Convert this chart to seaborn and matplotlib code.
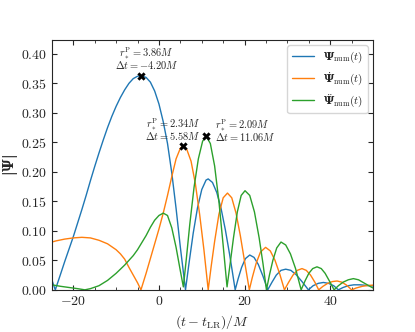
import numpy as np
import matplotlib
matplotlib.use('Agg')
import matplotlib.pyplot as plt
import seaborn as sns
from matplotlib.ticker import AutoMinorLocator, MultipleLocator

# |Psi_num(t)|
t_psi = [-25, -24.6, -24.2, -23, -22, -21, -20, -19, -18, -17, -16, -15, -14, -13, -12,
         -11, -10, -9, -8, -7, -6, -5, -4.2, -3, -2, -1, 0, 1, 2, 3, 4, 5, 6.2,
         7, 8, 9, 10, 11, 11.5, 12.5, 13.5, 14.5, 15.5, 16.5, 17.2, 17.8,
         18.5, 19.3, 20.2, 21.2, 22.2, 23.2, 24.3, 25.4, 26.4, 27.4, 28.5, 29.6, 30.8,
         32, 33.4, 34.9, 36, 37.2, 38.4, 39.6, 40.8, 41.9, 43, 44.2, 45.5, 47, 48.5, 50]
v_psi = [0.017, 0.008, 0.0, 0.026, 0.048, 0.069, 0.090, 0.113, 0.136, 0.160, 0.185, 0.209,
         0.232, 0.254, 0.275, 0.294, 0.311, 0.326, 0.339, 0.350, 0.358, 0.362, 0.363,
         0.360, 0.352, 0.337, 0.315, 0.285, 0.248, 0.198, 0.138, 0.072, 0.0,
         0.044, 0.096, 0.139, 0.170, 0.186, 0.188, 0.182, 0.165, 0.138, 0.102, 0.060, 0.028, 0.0,
         0.019, 0.038, 0.053, 0.059, 0.055, 0.043, 0.023, 0.0, 0.013, 0.025, 0.033, 0.035, 0.033,
         0.026, 0.014, 0.0, 0.007, 0.011, 0.0125, 0.011, 0.007, 0.0, 0.004, 0.007, 0.0085,
         0.0085, 0.0075, 0.0065]

# |dPsi/dt|
t_dpsi = [-25, -24, -22, -20, -18, -16, -14, -12, -10, -9, -8, -7, -6, -5, -4.2,
          -3, -2, -1, 0, 1, 2, 3, 4, 5, 5.58, 6.5, 7.5, 8.5, 9.5, 10.5, 11.5,
          12.2, 13, 14, 15, 16, 17, 18, 19, 20, 21.1, 21.8, 22.7, 23.7, 24.9, 26, 27.1, 28.2,
          29.3, 30.3, 31.3, 32.3, 33.4, 34.4, 35.4, 36.4, 37.3, 38.3, 39.4, 40.5, 41.6, 42.7,
          43.8, 45, 46, 47.5, 49, 50]
v_dpsi = [0.081, 0.083, 0.086, 0.088, 0.089, 0.088, 0.084, 0.078, 0.068, 0.061, 0.052, 0.038,
          0.025, 0.012, 0.0, 0.028, 0.053, 0.078, 0.103, 0.130, 0.160, 0.192, 0.222, 0.240,
          0.244, 0.238, 0.218, 0.180, 0.128, 0.068, 0.0, 0.040, 0.082, 0.128, 0.156, 0.164,
          0.156, 0.130, 0.092, 0.048, 0.0, 0.021, 0.045, 0.064, 0.072, 0.066, 0.050, 0.027,
          0.0, 0.013, 0.025, 0.033, 0.036, 0.033, 0.025, 0.013, 0.0, 0.006, 0.011, 0.014,
          0.015, 0.013, 0.008, 0.0, 0.003, 0.006, 0.0075, 0.008]

# |d2Psi/dt2|
t_ddpsi = [-25, -23, -21, -19, -17.3, -16, -14, -12, -10, -8, -7, -6, -5, -4, -3, -2, -1, 0, 1,
           2, 3, 4, 5, 5.7, 6.4, 7.2, 8.2, 9.2, 10.2, 11.06, 12, 13, 14, 15, 15.9,
           16.6, 17.4, 18.3, 19.2, 20.1, 21.2, 22.3, 23.4, 24.3, 25.1, 25.8, 26.6, 27.5, 28.5,
           29.6, 30.7, 31.9, 33.2, 34.1, 35, 35.9, 36.9, 37.9, 38.8, 39.8, 40.9,
           41.9, 43, 44.2, 45.4, 46.6, 47.8, 49, 50]
v_ddpsi = [0.0085, 0.006, 0.004, 0.002, 0.0, 0.002, 0.007, 0.016, 0.028, 0.042, 0.050, 0.058,
           0.068, 0.080, 0.092, 0.106, 0.118, 0.126, 0.130, 0.126, 0.105, 0.072, 0.032, 0.005,
           0.053, 0.111, 0.174, 0.222, 0.252, 0.260, 0.248, 0.210, 0.150, 0.075, 0.005,
           0.043, 0.088, 0.132, 0.160, 0.168, 0.160, 0.132, 0.088, 0.044, 0.0, 0.025, 0.050,
           0.071, 0.081, 0.076, 0.061, 0.036, 0.0, 0.015, 0.028, 0.036, 0.039, 0.036, 0.028,
           0.015, 0.0, 0.007, 0.013, 0.017, 0.019, 0.017, 0.012, 0.007, 0.003]

labels = [r'$\mathbf{\Psi}_{\rm num}(t)$', r'$\dot{\mathbf{\Psi}}_{\rm num}(t)$',
          r'$\ddot{\mathbf{\Psi}}_{\rm num}(t)$']
r_star = [3.86, 2.34, 2.09]
delta_t = [-4.20, 5.58, 11.06]

sns.set_style('ticks', rc={
    'xtick.direction': 'in', 'ytick.direction': 'in',
    'xtick.top': True, 'ytick.right': True,
})
plt.rcParams['font.family'] = 'serif'
plt.rcParams['font.serif'] = ['cmr10', 'DejaVu Serif']
plt.rcParams['mathtext.fontset'] = 'cm'
plt.rcParams['axes.formatter.use_mathtext'] = True
plt.rcParams['axes.unicode_minus'] = True
# "custom" math set only for the texts with a bold Psi
plt.rcParams['mathtext.rm'] = 'cmr10'
plt.rcParams['mathtext.it'] = 'cmmi10'
plt.rcParams['mathtext.bf'] = 'DejaVu Serif:bold'
plt.rcParams['mathtext.sf'] = 'DejaVu Serif'

colors = sns.color_palette('tab10', 3)
fig, ax = plt.subplots(figsize=(4.15, 3.32), dpi=100)
fig.subplots_adjust(left=0.125, right=0.899, bottom=0.127, top=0.88)

series = [(t_psi, v_psi), (t_dpsi, v_dpsi), (t_ddpsi, v_ddpsi)]
for (t, v), lab, c in zip(series, labels, colors):
    sns.lineplot(x=t, y=v, ax=ax, color=c, label=lab, linewidth=1.0,
                 estimator=None, sort=False)

# peak markers and their annotations
peak_t = [t[int(np.argmax(v))] for t, v in series]
peak_v = [max(v) for t, v in series]
ax.scatter(peak_t, peak_v, marker='X', s=36, color='k', linewidths=0, zorder=5)

offsets = [((4, 3), 'center', 'bottom'), ((-7, 3), 'center', 'bottom'), ((6, 4), 'left', 'center')]
for x, y, r, dt, (off, ha, va) in zip(peak_t, peak_v, r_star, delta_t, offsets):
    txt = r'$r_*^{\rm P} = %.2fM$' % r + '\n' + r'$\Delta t = %.2fM$' % dt
    ax.annotate(txt, xy=(x, y), xytext=off, textcoords='offset points',
                ha=ha, va=va, fontsize=7.5, color='0.15', linespacing=0.8)

ax.set_xlim(-25, 50)
ax.set_ylim(0, 0.4237)
ax.yaxis.set_major_locator(MultipleLocator(0.05))
ax.xaxis.set_major_locator(MultipleLocator(20))
ax.xaxis.set_minor_locator(AutoMinorLocator(4))
ax.tick_params(which='both', direction='in', top=True, right=True, labelsize=10)
ax.tick_params(which='minor', length=2)
ax.set_xlabel(r'$(t - t_{\rm LR})/M$', fontsize=10)
ax.set_ylabel(r'$\mathsf{|}\mathbf{\Psi}\mathsf{|}$', fontsize=10, math_fontfamily='custom')
ax.yaxis.set_label_coords(-0.1, 0.5)
ax.legend(loc='upper right', prop={'size': 8, 'math_fontfamily': 'custom'},
          labelspacing=0.45)

fig.savefig('out.png', dpi=100)
